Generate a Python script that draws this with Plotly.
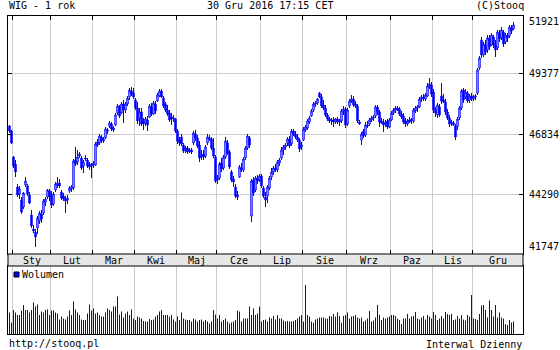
import plotly.graph_objects as go

# ---------------- data (WIG daily, 29 Dec 2015 - 30 Dec 2016) ----------------
open_ = [47218,46992,45816,45500,44460,44143,43872,43555,44550,44505,
         44098,43193,42560,42425,42606,42922,43239,43284,43781,44008,
         44279,44053,43691,44324,44550,44641,44234,44053,43917,43872,
         44279,44369,44415,45681,45590,45862,45771,45409,45771,45681,
         45500,45409,45455,45455,46495,46450,46721,46540,46676,47037,
         47218,47309,47128,47264,47806,48078,47806,48213,47942,48213,
         48530,48801,48711,48394,48032,47580,47852,47445,47354,47490,
         47625,48078,47761,48213,48349,48575,48801,48485,48213,47942,
         47806,47625,47535,47535,46992,46585,46721,46359,46133,46223,
         46088,46133,46450,46857,46676,46359,45816,45952,45862,46450,
         46676,46630,46223,45816,44776,44867,45545,45319,45816,46450,
         46043,45138,44822,44460,44098,44912,45319,45229,45771,46223,
         46676,43148,44776,44324,44867,44776,44957,44415,44008,44053,
         44415,44912,45138,45319,45229,45545,45771,46133,46269,46450,
         46630,46404,46992,46857,46721,46585,46269,46585,47037,47128,
         47399,47671,47942,48213,48259,48711,48530,48168,48032,47716,
         47535,47445,47490,47399,47535,47399,47445,47897,47987,47309,
         48123,48349,48439,48213,48123,47399,46585,46992,46811,47264,
         47309,47490,47580,47671,48078,47852,47445,47354,47309,47445,
         47173,47490,47806,47942,48032,47987,47761,47671,47445,47309,
         47490,47445,47445,47897,48032,48078,48439,48530,48439,48575,
         49027,49073,48756,47942,47716,48078,48575,48394,48304,47852,
         47580,47309,47354,47218,47173,47580,48032,48846,48530,48711,
         48394,48575,48439,48530,48711,49841,51107,50429,50881,50655,
         51198,50881,51243,50881,50745,51424,51198,51469,51017,51288,
         51288,51650,51605]

high = [47264,47037,45862,45681,44595,44505,44008,44234,44912,44595,
        44234,43420,42741,42560,43148,43374,43420,43917,44008,44369,
        44369,44279,44234,44686,44912,44822,44324,44188,44053,44098,
        44505,44550,45726,46269,46133,46043,45862,45681,45907,45771,
        45590,45545,45636,46495,46630,46857,46811,46721,47173,47128,
        47445,47399,47218,47806,48213,48168,48304,48394,48304,48575,
        48937,48982,48937,48485,48304,48032,48032,47580,47625,47671,
        48213,48259,48349,48349,48711,48892,48892,48575,48304,48168,
        47942,47806,47716,47580,47083,46721,46857,46450,46314,46314,
        46223,46223,46992,47037,46811,46540,46133,46133,46359,46857,
        46811,46721,46676,45907,45002,45590,45771,45907,46721,46585,
        46133,45229,44957,44595,44279,45455,45545,45816,46314,46857,
        46766,44822,44912,44957,45002,45048,45048,44505,44234,44550,
        44957,45319,45409,45500,45681,45771,46269,46359,46450,46721,
        46766,47083,47083,46992,46857,46676,46495,47173,47264,47535,
        47671,47987,48304,48349,48485,48756,48666,48394,48168,47806,
        47625,47580,47625,47580,47625,47535,47987,48123,48078,48032,
        48439,48620,48575,48349,48213,47490,46947,47083,47399,47445,
        47580,47671,47716,48168,48168,47942,47580,47535,47490,47535,
        47580,47897,48032,48123,48123,48078,47897,47806,47580,47535,
        47625,47580,48032,48123,48168,48530,48620,48666,48711,49163,
        49389,49208,48892,48078,48259,48213,49163,48666,48439,47987,
        47716,47490,47445,47309,47625,48123,48892,48937,48892,48801,
        48666,48711,48620,48666,49841,50384,51243,51017,51107,51333,
        51333,51424,51333,51107,51559,51559,51695,51559,51424,51424,
        51786,51786,51921]

low = [46902,46404,45319,44912,44008,43917,43239,43465,44460,44053,
       43691,42606,42380,41747,42334,42787,42832,43193,43601,43917,
       43827,43510,43601,44234,44415,44415,43872,43827,43284,43691,
       44188,44234,44324,45409,45455,45771,45229,45093,45636,45319,
       45229,44867,45319,45409,46269,46359,46450,46450,46630,46857,
       47128,46992,46947,47218,47716,47580,47761,47354,47806,48123,
       48394,48575,48439,47942,47309,47218,47218,47037,47218,46992,
       47580,47671,47716,47761,48304,48530,48485,48032,47852,47671,
       47399,47264,47399,46902,46404,46314,46314,45997,45997,45952,
       45997,45952,46359,46540,46223,45590,45681,45681,45771,46359,
       46540,46133,45771,44641,44595,44776,45138,45229,45726,45907,
       45274,44686,44460,43962,43872,44867,45138,45138,45681,46133,
       46223,42877,44053,44234,44595,44686,44415,43962,43555,43736,
       44324,44776,45002,45138,45138,45409,45681,45907,46133,46314,
       46223,46314,46766,46630,46495,46043,46133,46540,46947,47037,
       47309,47625,47852,48078,48168,48485,48032,47942,47625,47445,
       47354,47264,47173,47309,47309,47218,47354,47716,47128,47218,
       48032,48259,48078,48032,47354,47264,46359,46676,46721,47128,
       47218,47399,47445,47580,47716,47173,47309,46947,47173,47083,
       47128,47445,47716,47806,47897,47671,47535,47309,47173,47218,
       47354,47309,47354,47806,47852,48032,48304,48349,48349,48530,
       48892,48530,47806,47625,47580,47625,48213,48259,47716,47490,
       47173,47218,47218,46585,47037,47490,47942,48259,48439,48259,
       48259,48349,48349,48394,48620,49751,50293,50338,50429,50519,
       50655,50836,50745,50338,50655,51017,51107,50791,50926,51017,
       51198,51378,51559]

close = [46992,46450,45409,45138,44098,44369,43329,44188,44731,44143,
         43736,42696,42470,42199,43058,43284,43013,43827,43917,44324,
         44008,43646,44143,44595,44641,44505,43962,43917,43827,43962,
         44415,44460,45636,45500,45816,45952,45319,45590,45726,45409,
         45364,45455,45545,46404,46359,46766,46540,46630,47083,46992,
         47354,47083,47037,47716,48123,47671,48213,47942,48213,48485,
         48846,48666,48530,48032,47445,47852,47309,47309,47535,47264,
         48123,47761,48259,47897,48620,48801,48530,48123,47942,47761,
         47490,47535,47580,46992,46540,46450,46404,46088,46223,46043,
         46133,46043,46902,46676,46314,45771,45907,45816,46269,46721,
         46630,46223,45862,44731,44867,45500,45274,45816,46540,45997,
         45364,44776,44686,44053,44008,45364,45229,45726,46223,46766,
         46359,44731,44188,44867,44731,44957,44505,44053,43872,44460,
         44867,45138,45319,45229,45590,45681,46133,46269,46359,46630,
         46314,46992,46857,46721,46585,46178,46359,47083,47173,47445,
         47580,47897,48213,48259,48439,48530,48123,48032,47716,47535,
         47445,47490,47399,47535,47399,47445,47897,47987,47264,47942,
         48349,48439,48168,48123,47445,47309,46857,46766,47264,47218,
         47490,47580,47625,48078,47852,47399,47354,47264,47399,47173,
         47490,47806,47942,48032,47942,47761,47625,47399,47309,47445,
         47399,47535,47942,48032,48078,48439,48530,48439,48620,49027,
         49118,48666,47942,47806,48168,47716,48349,48304,47852,47580,
         47309,47399,47264,46721,47535,48032,48801,48394,48756,48349,
         48575,48439,48530,48575,49751,50293,50429,50926,50565,51198,
         50791,51333,50881,50655,51469,51152,51559,50926,51333,51198,
         51695,51514,51786]

volume = [1070,570,1200,1070,950,950,1170,1450,1200,1200,
          1070,1200,1580,1370,1480,950,1120,1070,1200,1230,
          950,1170,1170,1070,1030,730,870,780,730,870,
          1170,950,1620,1230,1070,950,730,700,700,1030,
          1480,1170,1280,1030,1070,950,870,870,1070,1280,
          1200,1120,1370,1370,1870,980,1120,820,1030,1120,
          950,1230,780,700,870,830,780,650,620,620,
          750,700,730,870,950,1120,1200,950,950,950,
          870,950,730,620,870,700,1070,780,730,700,
          700,620,780,730,620,700,730,620,700,620,
          530,620,1200,980,780,950,620,700,780,620,
          530,570,620,700,1170,1120,620,780,780,780,
          1370,950,1280,950,1030,1370,620,700,730,620,
          830,780,900,730,950,780,
          780,670,620,650,620,620,650,700,780,870,
          950,620,2450,950,870,620,570,730,780,830,
          830,820,780,780,900,870,1000,870,1080,900,
          570,900,950,1080,780,870,900,950,830,780,
          830,620,670,780,1150,620,670,830,1450,950,
          700,830,780,830,870,950,950,900,780,700,
          500,780,780,1000,780,870,900,1100,780,730,
          830,900,730,950,870,780,1100,950,700,780,
          900,780,1100,1000,950,1000,700,730,900,780,
          950,730,670,950,870,1950,780,750,700,1000,
          1420,1450,1200,830,1670,1200,870,1450,830,1080,
          830,780,500,450,700,570,620]

months = ["Sty", "Lut", "Mar", "Kwi", "Maj", "Cze", "Lip", "Sie", "Wrz", "Paz", "Lis", "Gru"]
month_start = [2, 21, 42, 63, 84, 104, 126, 147, 169, 191, 212, 232]  # first session of each month
price_labels = ["51921", "49377", "46834", "44290", "41747"]
grid_levels = [49600, 46840, 44140]
price_min, price_max = 41747, 51921

# ---------------- layout helpers ----------------
W, H = 560, 350
BLUE = "#0000ff"
GRID = "#cccccc"
FONT = "DejaVu Sans Mono"


def px(x):
    return x / W


def py(y):
    return 1 - y / H


days = list(range(len(close)))
x_lo, x_hi = -0.75, 256.75
boundaries = [s - 0.5 for s in month_start]
edges = boundaries + [x_hi]
centers = [(edges[i] + edges[i + 1]) / 2 for i in range(len(months))]

fig = go.Figure()
fig.add_trace(go.Candlestick(
    x=days, open=open_, high=high, low=low, close=close,
    increasing=dict(line=dict(color=BLUE, width=1), fillcolor="#ffffff"),
    decreasing=dict(line=dict(color=BLUE, width=1), fillcolor=BLUE),
    whiskerwidth=0, hoverinfo="skip", xaxis="x", yaxis="y"))
fig.add_trace(go.Bar(
    x=days, y=volume, width=0.5,
    marker=dict(color=BLUE, line=dict(width=0)),
    hoverinfo="skip", xaxis="x2", yaxis="y2"))

axis_common = dict(showline=True, linecolor="black", linewidth=1, zeroline=False,
                   showticklabels=False, fixedrange=True)

fig.update_layout(
    width=W, height=H, autosize=False,
    margin=dict(l=0, r=0, t=0, b=0, pad=0),
    paper_bgcolor="white", plot_bgcolor="white",
    showlegend=False, boxgap=0,
    font=dict(family=FONT, size=10, color="black"),
    xaxis=dict(domain=[px(8), px(523)], range=[x_lo, x_hi], anchor="y",
               tickmode="array", tickvals=boundaries, ticks="inside", ticklen=4,
               tickcolor="black", mirror="ticks", showgrid=True, gridcolor=GRID,
               gridwidth=1, rangeslider=dict(visible=False), **axis_common),
    yaxis=dict(domain=[py(254), py(16)], range=[41430, 52192], anchor="x",
               tickmode="array", tickvals=grid_levels, ticks="inside", ticklen=4,
               tickcolor="black", mirror="ticks", showgrid=True, gridcolor=GRID,
               gridwidth=1, **axis_common),
    xaxis2=dict(domain=[px(8), px(523)], range=[x_lo, x_hi], anchor="y2",
                tickmode="array", tickvals=boundaries, ticks="", mirror=True,
                showgrid=True, gridcolor=GRID, gridwidth=1, **axis_common),
    yaxis2=dict(domain=[py(334), py(266)], range=[0, 3400], anchor="x2",
                ticks="", mirror=True, showgrid=False, **axis_common),
)

# month band
fig.add_shape(type="rect", xref="paper", yref="paper",
              x0=px(8), x1=px(523), y0=py(266), y1=py(254),
              fillcolor="#e6e6e6", line=dict(color="black", width=1), layer="above")

ann = []
for m, c in zip(months, centers):
    ann.append(dict(x=c, xref="x", y=py(260), yref="paper", text=m, showarrow=False,
                    xanchor="center", yanchor="middle"))

# price labels
label_pos = [price_max] + grid_levels + [price_min]
for t, v in zip(price_labels, label_pos):
    ann.append(dict(x=px(527), xref="paper", y=v, yref="y", text=t, showarrow=False,
                    xanchor="left", yanchor="middle"))

# header & footer
ann += [
    dict(x=px(7), y=py(6), text="WIG - 1 rok", xanchor="left"),
    dict(x=px(270), y=py(6), text="30 Gru 2016 17:15 CET", xanchor="center"),
    dict(x=px(526), y=py(6), text="(C)Stooq", xanchor="right"),
    dict(x=px(7), y=py(343), text="http://stooq.pl", xanchor="left"),
    dict(x=px(524), y=py(344), text="Interwal Dzienny", xanchor="right"),
    dict(x=px(20), y=py(274.5), text="Wolumen", xanchor="left"),
]
for a in ann[-6:]:
    a.update(xref="paper", yref="paper", showarrow=False, yanchor="middle")

fig.update_layout(annotations=ann)

# legend square for volume
fig.add_shape(type="rect", xref="paper", yref="paper",
              x0=px(14), x1=px(19), y0=py(277), y1=py(272),
              fillcolor=BLUE, line=dict(color="black", width=1), layer="above")

fig.write_html("out.html")
